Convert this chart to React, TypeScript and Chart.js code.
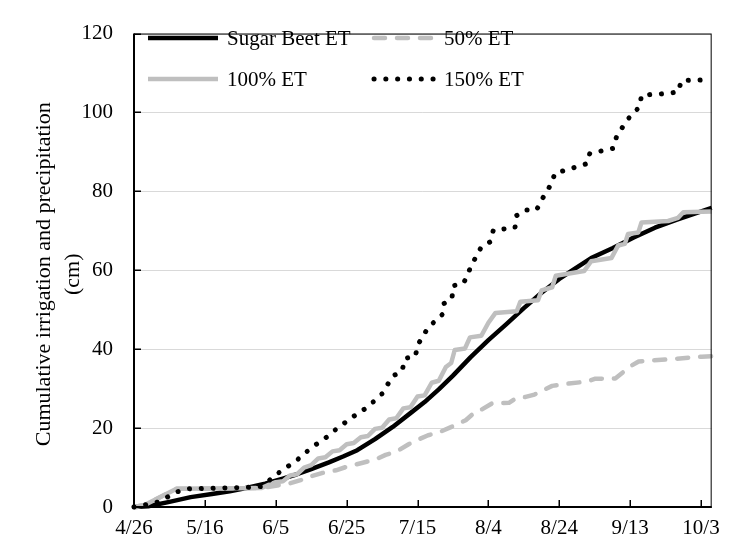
import React, { useEffect, useRef } from 'react';
import { Chart, registerables } from 'chart.js';

Chart.register(...registerables);

// ---- Data (x = days after 4/26, y = cumulative cm) ----
const X_MAX_DAY = 163;
const X_TICK_DAYS = [0, 20, 40, 60, 80, 100, 120, 140, 160];
const Y_TICKS = [0, 20, 40, 60, 80, 100, 120];
const Y_TITLE = ['Cumulative irrigation and precipitation', '(cm)'];

const seriesNames = ['Sugar Beet ET', '50% ET', '100% ET', '150% ET'];

const sugarBeetDays = [0, 4, 10, 16, 22, 27, 32, 37, 42, 46, 50, 55, 59, 63, 68, 73, 78, 82, 86, 90, 95, 100, 105, 110, 115, 120, 124, 129, 135, 141, 147, 153, 158, 163];
const sugarBeetValues = [0, 0.2, 1.3, 2.5, 3.3, 4.0, 4.9, 5.9, 7.2, 8.3, 9.6, 11.3, 12.8, 14.4, 17.2, 20.3, 23.8, 26.6, 29.8, 33.3, 38.0, 42.3, 46.3, 50.4, 54.3, 57.8, 60.2, 63.1, 65.6, 68.3, 70.8, 72.8, 74.3, 75.8];

const et50Days = [0, 3, 8, 12, 36, 40, 44, 47, 50, 53, 57, 60, 64, 68, 71, 74, 77.5, 80, 83, 86, 89.8, 93.6, 96.4, 98.3, 101.1, 105.8, 107.7, 110.5, 113, 116.1, 118, 122.7, 127.8, 130, 135.8, 140.1, 142.4, 151.8, 160.2, 163];
const et50Values = [0, 0.5, 2.8, 4.6, 4.8, 5.4, 6.0, 6.8, 7.8, 8.6, 9.3, 10.2, 11.1, 12.0, 13.2, 14.0, 15.9, 17.0, 18.2, 18.9, 20.4, 22.0, 24.2, 24.8, 26.3, 26.4, 27.5, 27.9, 28.5, 29.9, 30.7, 31.3, 31.8, 32.5, 32.6, 35.7, 36.9, 37.5, 38.1, 38.2];

const et100Days = [0, 3, 8, 12, 36, 38, 40, 42, 44, 46, 48, 50, 52, 54, 56, 58, 60, 62, 64, 66, 68, 70, 72, 74, 76, 78, 80, 82, 84, 86, 88, 89.5, 90.5, 93.4, 94.8, 98, 100, 102, 108, 109, 114, 115, 118, 119, 127, 129, 134.7, 136.6, 138.5, 139.4, 142.3, 143.2, 150.7, 153.5, 155, 163];
const et100Values = [0, 0.5, 2.8, 4.6, 4.8, 5.6, 6.3, 6.5, 8.0, 8.3, 10.0, 10.6, 12.3, 12.6, 14.1, 14.4, 15.9, 16.2, 17.7, 18.0, 19.8, 20.1, 22.2, 22.5, 25.0, 25.3, 28.0, 28.3, 31.5, 32.0, 35.5, 36.5, 39.8, 40.2, 43.0, 43.4, 46.7, 49.2, 49.6, 52.0, 52.4, 54.9, 55.7, 58.6, 59.8, 62.3, 63.1, 66.3, 66.7, 69.2, 69.6, 72.1, 72.5, 73.3, 74.7, 74.9];

const et150Days = [0, 2, 7, 12, 15, 33, 36, 38.5, 42, 45.5, 50, 54.5, 57, 62, 66, 70, 73, 75.6, 76.5, 79.4, 80, 83, 87, 87.5, 89.7, 90.1, 93, 95.3, 98, 100.5, 101.4, 107.5, 108, 110.3, 113.6, 115, 117.8, 118.8, 121.6, 124.4, 127.7, 128.6, 135.2, 136.1, 139, 142.7, 143.2, 150.2, 153.5, 154.5, 163];
const et150Values = [0, 0.3, 1.3, 3.8, 4.6, 5.0, 5.2, 7.0, 9.5, 11.5, 15.0, 17.8, 19.7, 23.0, 25.4, 28.7, 33.2, 34.4, 37.7, 38.1, 41.0, 45.5, 48.8, 51.6, 52.8, 56.1, 56.7, 61.4, 65.9, 67.2, 70.2, 70.8, 73.9, 75.3, 75.3, 77.8, 82.0, 84.7, 85.3, 86.1, 87.0, 89.6, 90.9, 93.7, 98.0, 101.5, 104.4, 104.8, 105.2, 108.1, 108.3];

// ---- Styles ----
const FONT = 'Liberation Serif';
const BLACK = '#000000';
const GREY = '#bfbfbf';
const GRID = '#d9d9d9';
const LINE_W = 4.5;
const TICK_FONT = 21;
const LEGEND_FONT = 21;
const TITLE_FONT = 22;

function dayToLabel(d: number): string {
  const dt = new Date(Date.UTC(2019, 3, 26 + d));
  return `${dt.getUTCMonth() + 1}/${dt.getUTCDate()}`;
}

function toPoints(xs: number[], ys: number[]) {
  return xs.map((x, i) => ({ x, y: ys[i] }));
}

const seriesStyles = [
  { color: BLACK, dash: [] as number[], cap: 'butt' as CanvasLineCap, width: LINE_W, order: 4 },
  { color: GREY, dash: [11, 12], cap: 'round' as CanvasLineCap, width: LINE_W, order: 3 },
  { color: GREY, dash: [] as number[], cap: 'butt' as CanvasLineCap, width: LINE_W, order: 2 },
  { color: BLACK, dash: [0.1, 11.7], cap: 'round' as CanvasLineCap, width: 5, order: 1 },
];

const framePlugin = {
  id: 'frameAndLegend',
  afterDraw(chart: any) {
    const { ctx, chartArea } = chart;
    const { left, right, top, bottom } = chartArea;
    const xs = chart.scales.x;
    const ys = chart.scales.y;
    ctx.save();
    // plot border
    ctx.strokeStyle = BLACK;
    ctx.lineWidth = 1;
    ctx.setLineDash([]);
    ctx.strokeRect(left + 0.5, top + 0.5, right - left - 1, bottom - top);
    // axes
    ctx.lineWidth = 2;
    ctx.beginPath();
    ctx.moveTo(left, top);
    ctx.lineTo(left, bottom);
    ctx.lineTo(right, bottom);
    ctx.stroke();
    // inside tick marks
    ctx.lineWidth = 1.5;
    ctx.beginPath();
    xs.ticks.forEach((t: any) => {
      const px = Math.round(xs.getPixelForValue(t.value)) + 0.25;
      ctx.moveTo(px, bottom);
      ctx.lineTo(px, bottom - 7);
    });
    ys.ticks.forEach((t: any) => {
      const py = Math.round(ys.getPixelForValue(t.value)) + 0.25;
      ctx.moveTo(left, py);
      ctx.lineTo(left + 7, py);
    });
    ctx.stroke();

    // legend
    const items = [
      { i: 0, x0: 148, x1: 218, tx: 227, y: 38 },
      { i: 1, x0: 374, x1: 436, tx: 444, y: 38 },
      { i: 2, x0: 148, x1: 218, tx: 227, y: 79 },
      { i: 3, x0: 374, x1: 436, tx: 444, y: 79 },
    ];
    ctx.font = `${LEGEND_FONT}px "${FONT}"`;
    ctx.textBaseline = 'middle';
    ctx.textAlign = 'left';
    items.forEach((it) => {
      const st = seriesStyles[it.i];
      ctx.strokeStyle = st.color;
      ctx.lineWidth = st.width;
      ctx.lineCap = st.cap;
      ctx.setLineDash(st.dash);
      ctx.beginPath();
      ctx.moveTo(it.x0, it.y);
      ctx.lineTo(it.x1, it.y);
      ctx.stroke();
      ctx.setLineDash([]);
      ctx.fillStyle = BLACK;
      ctx.fillText(seriesNames[it.i], it.tx, it.y + 1);
    });

    // y-axis title
    ctx.save();
    ctx.translate(0, (top + bottom) / 2 + 4);
    ctx.rotate(-Math.PI / 2);
    ctx.textAlign = 'center';
    ctx.textBaseline = 'middle';
    ctx.font = `${TITLE_FONT}px "${FONT}"`;
    ctx.fillStyle = BLACK;
    ctx.fillText(Y_TITLE[0], 0, 44);
    ctx.fillText(Y_TITLE[1], 0, 73);
    ctx.restore();

    ctx.restore();
  },
};

export default function App() {
  const ref = useRef<HTMLCanvasElement | null>(null);
  useEffect(() => {
    if (!ref.current) return;
    const allDays = [sugarBeetDays, et50Days, et100Days, et150Days];
    const allValues = [sugarBeetValues, et50Values, et100Values, et150Values];
    const chart = new Chart(ref.current, {
      type: 'line',
      data: {
        datasets: seriesNames.map((name, i) => ({
          label: name,
          data: toPoints(allDays[i], allValues[i]),
          borderColor: seriesStyles[i].color,
          borderWidth: seriesStyles[i].width,
          borderDash: seriesStyles[i].dash,
          borderCapStyle: seriesStyles[i].cap,
          borderJoinStyle: 'round' as CanvasLineJoin,
          pointRadius: 0,
          tension: 0,
          fill: false,
          order: seriesStyles[i].order,
          clip: 8,
        })),
      },
      options: {
        animation: false,
        responsive: false,
        maintainAspectRatio: false,
        layout: { padding: { top: 18, right: 16, left: 0, bottom: 0 } },
        plugins: { legend: { display: false }, tooltip: { enabled: false } },
        scales: {
          x: {
            type: 'linear',
            min: 0,
            max: X_MAX_DAY,
            afterBuildTicks: (s: any) => {
              s.ticks = X_TICK_DAYS.map((v) => ({ value: v }));
            },
            afterFit: (s: any) => { s.height = 45; },
            ticks: {
              autoSkip: false,
              maxRotation: 0,
              padding: 9,
              color: BLACK,
              font: { family: FONT, size: TICK_FONT },
              callback: (v: any) => dayToLabel(Number(v)),
            },
            grid: { display: false, drawTicks: false },
            border: { display: false },
          },
          y: {
            min: 0,
            max: 120,
            afterBuildTicks: (s: any) => {
              s.ticks = Y_TICKS.map((v) => ({ value: v }));
            },
            afterFit: (s: any) => { s.width = 134; },
            ticks: {
              padding: 21,
              color: BLACK,
              font: { family: FONT, size: TICK_FONT },
            },
            grid: { color: GRID, lineWidth: 1, drawTicks: false },
            border: { display: false },
          },
        },
      },
      plugins: [framePlugin],
    });
    return () => chart.destroy();
  }, []);
  return (
    <div style={{ position: 'fixed', left: 0, top: 0, width: 729, height: 552, background: '#fff' }}>
      <canvas ref={ref} width={729} height={552} style={{ display: 'block' }} />
    </div>
  );
}
